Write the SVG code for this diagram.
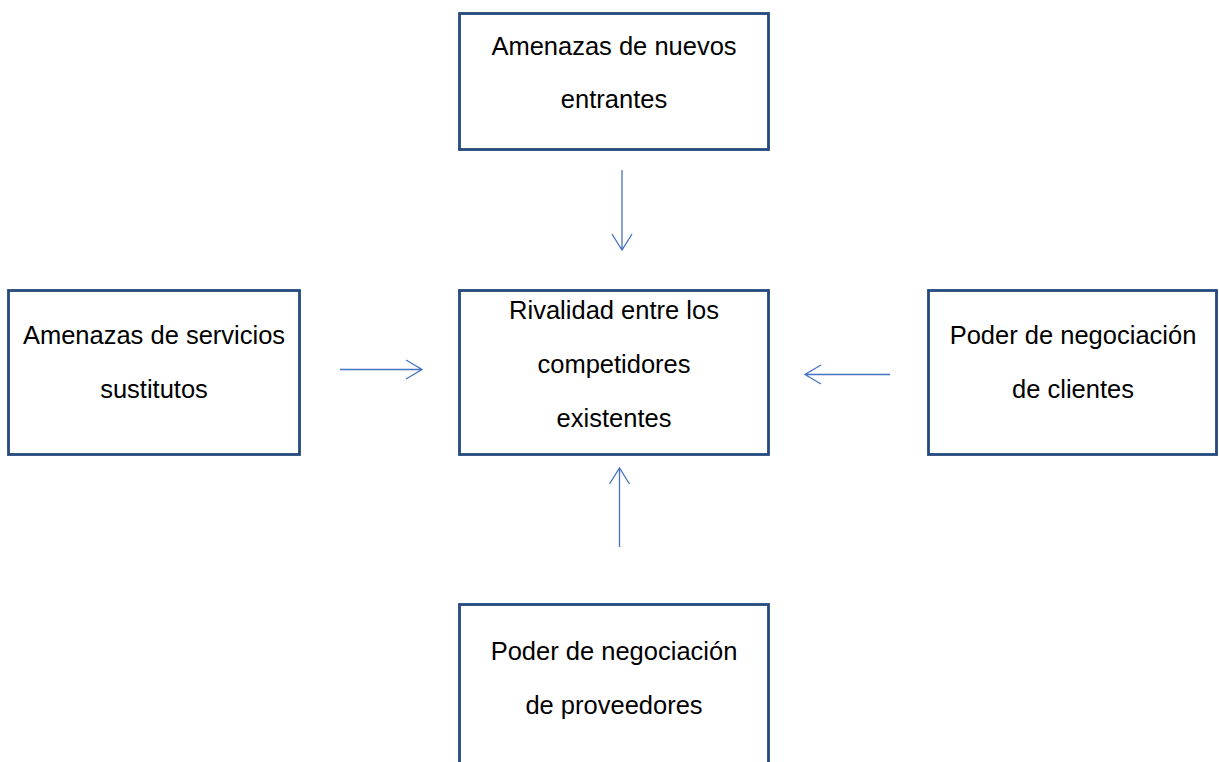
<svg xmlns="http://www.w3.org/2000/svg" width="1219" height="762" viewBox="0 0 1219 762">
<style>
.box{fill:#fff;stroke:#244A7E;stroke-width:2.8}
.t{font-family:"Liberation Sans",Arial,sans-serif;font-size:25.5px;fill:#000;text-anchor:middle}
.c{stroke:#4472C4;stroke-width:1.3;fill:none}
</style>
<rect width="1219" height="762" fill="#fff"/>
<g id="n1"><rect class="box" x="459.5" y="13.5" width="309" height="136"/><text class="t" x="614" y="55">Amenazas de nuevos</text><text class="t" x="614" y="108">entrantes</text></g>
<g id="n2"><rect class="box" x="459.5" y="290.5" width="309" height="164"/><text class="t" x="614" y="319">Rivalidad entre los</text><text class="t" x="614" y="373">competidores</text><text class="t" x="614" y="427">existentes</text></g>
<g id="n3"><rect class="box" x="8.5" y="290.5" width="291" height="164"/><text class="t" x="154" y="344">Amenazas de servicios</text><text class="t" x="154" y="398">sustitutos</text></g>
<g id="n4"><rect class="box" x="928.5" y="290.5" width="288" height="164"/><text class="t" x="1073" y="344">Poder de negociación</text><text class="t" x="1073" y="398">de clientes</text></g>
<g id="n5"><rect class="box" x="459.5" y="604.5" width="309" height="170"/><text class="t" x="614" y="660">Poder de negociación</text><text class="t" x="614" y="714">de proveedores</text></g>
<g id="connectors">
<path class="c" d="M622 170V250M612 234L622 250L632 234"/>
<path class="c" d="M340 369.5H422M406 360L422 369.5L406 379"/>
<path class="c" d="M890 374.5H805M821 365L805 374.5L821 384"/>
<path class="c" d="M619.5 547V468M609.5 484L619.5 468L629.5 484"/>
</g>
</svg>
